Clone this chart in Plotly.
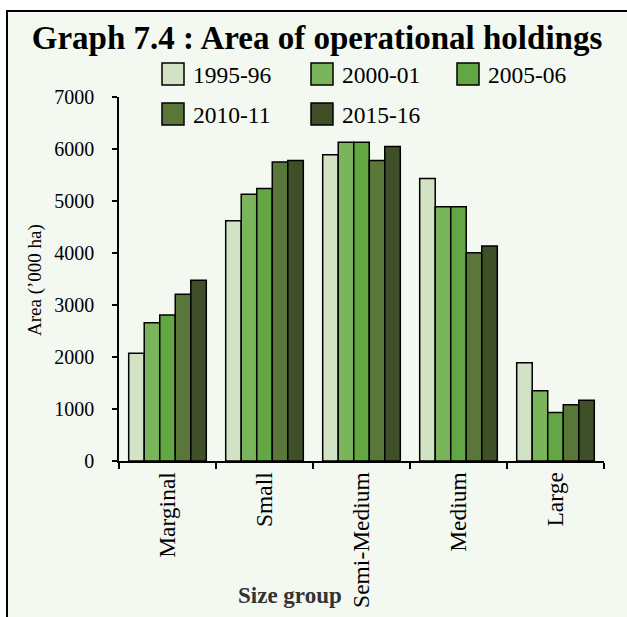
import plotly.graph_objects as go

# Size groups of operational holdings
size_groups = ["Marginal", "Small", "Semi-Medium", "Medium", "Large"]

# Census years
years = ["1995-96", "2000-01", "2005-06", "2010-11", "2015-16"]

# Area ('000 ha) per size group, one list per census year
area_1995_96 = [2070, 4620, 5890, 5435, 1890]
area_2000_01 = [2660, 5130, 6130, 4890, 1350]
area_2005_06 = [2810, 5240, 6130, 4890, 935]
area_2010_11 = [3205, 5750, 5780, 4005, 1080]
area_2015_16 = [3475, 5780, 6050, 4135, 1170]

series = [area_1995_96, area_2000_01, area_2005_06, area_2010_11, area_2015_16]
colors = ["#D1E3C4", "#7AB55B", "#63A744", "#5A773A", "#3F4F27"]

y_ticks = [0, 1000, 2000, 3000, 4000, 5000, 6000, 7000]

W, H = 627, 617
L, R, T, B = 119, 23, 97, 156
PW, PH = W - L - R, H - T - B
BG = "#F3F8F1"
FONT = "Liberation Serif, Times New Roman, serif"


def px(x):
    return (x - L) / PW


def py(y):
    return (H - B - y) / PH


fig = go.Figure()
for name, vals, col in zip(years, series, colors):
    fig.add_trace(go.Bar(
        x=size_groups, y=vals, name=name,
        marker=dict(color=col, line=dict(color="black", width=1.5)),
        showlegend=False,
    ))

shapes = [
    # outer frame
    dict(type="rect", xref="paper", yref="paper",
         x0=px(7), x1=px(640), y0=py(630), y1=py(11),
         line=dict(color="black", width=2), fillcolor=BG, layer="below"),
]
annotations = []

# legend: three columns, two rows
col_x = [162, 311, 457]
row_y = [63, 103]
sw = 22
for i, (name, col) in enumerate(zip(years, colors)):
    cx = col_x[i % 3]
    ry = row_y[i // 3]
    shapes.append(dict(type="rect", xref="paper", yref="paper",
                       x0=px(cx), x1=px(cx + sw), y0=py(ry + sw), y1=py(ry),
                       line=dict(color="black", width=1.5), fillcolor=col))
    annotations.append(dict(xref="paper", yref="paper", x=px(cx + 29), y=py(ry + sw / 2 + 1),
                            text=name, showarrow=False, xanchor="left", yanchor="middle",
                            font=dict(family=FONT, size=23.5, color="black")))

annotations.append(dict(xref="paper", yref="paper", x=px(290), y=py(595),
                        text="<b>Size group</b>", showarrow=False,
                        xanchor="center", yanchor="middle",
                        font=dict(family=FONT, size=23, color="#333333")))
annotations.append(dict(xref="paper", yref="paper", x=px(35), y=py(280),
                        text="Area (\u2019000 ha)", showarrow=False, textangle=-90,
                        xanchor="center", yanchor="middle",
                        font=dict(family=FONT, size=19, color="black")))

fig.update_layout(
    width=W, height=H,
    margin=dict(l=L, r=R, t=T, b=B, pad=0, autoexpand=False),
    paper_bgcolor="white",
    plot_bgcolor="rgba(0,0,0,0)",
    barmode="group",
    bargap=0.2,
    bargroupgap=0,
    title=dict(text="<b>Graph 7.4 : Area of operational holdings</b>",
               x=317 / W, xanchor="center", y=1 - 37 / H, yanchor="middle",
               font=dict(family=FONT, size=33, color="black")),
    font=dict(family=FONT, color="black"),
    shapes=shapes,
    annotations=annotations,
    showlegend=False,
)
fig.update_xaxes(
    showline=True, linecolor="black", linewidth=1.5,
    ticks="outside", ticklen=6, tickwidth=1.5, tickcolor="black",
    tickson="boundaries", tickangle=-90,
    tickfont=dict(family=FONT, size=23.5, color="black"),
    showgrid=False, zeroline=False, automargin=False,
)
fig.update_yaxes(
    range=[0, 7000], tickvals=y_ticks,
    showline=True, linecolor="black", linewidth=1.5,
    ticks="outside", ticklen=5, tickwidth=1.5, tickcolor="black",
    tickfont=dict(family=FONT, size=20, color="black"),
    showgrid=False, zeroline=False, ticklabelstandoff=14, automargin=False,
)

fig.write_html("out.html")
